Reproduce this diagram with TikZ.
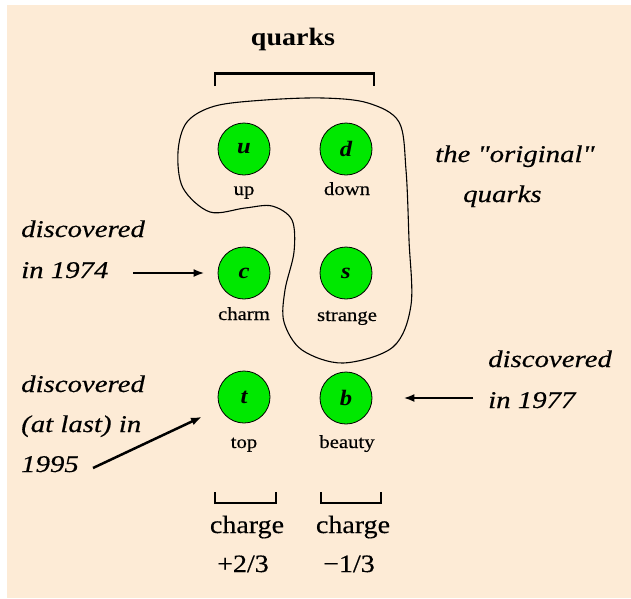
\documentclass[tikz,border=0pt]{standalone}
\usepackage{fontspec}
\setmainfont{Liberation Serif}[FakeStretch=1.12]
\newfontfamily\txtfont{Liberation Serif}[FakeStretch=1.12,FakeBold=0.4]
\newfontfamily\notefont{Liberation Serif}[FakeStretch=1.2,FakeBold=0.4]
\usetikzlibrary{arrows.meta}
\definecolor{bgpeach}{RGB}{253,235,214}
\definecolor{qgreen}{RGB}{0,232,0}
\tikzset{
  quark/.style={circle,draw=black,line width=0.8pt,fill=qgreen,minimum size=52pt,inner sep=0pt,
     font=\fontsize{22}{26}\selectfont\bfseries\itshape},
  qname/.style={anchor=base,inner sep=0pt,font=\txtfont\fontsize{18.5}{22}\selectfont},
  note/.style={anchor=base west,inner sep=0pt,font=\notefont\fontsize{24}{28}\selectfont\itshape},
  big/.style={anchor=base,inner sep=0pt,font=\txtfont\fontsize{25}{30}\selectfont},
  brack/.style={line width=2.6pt},
  pointer/.style={line width=2.5pt,-{Latex[length=11pt,width=8pt]}},
  blob/.style={line width=1.1pt}
}
\begin{document}
\begin{tikzpicture}[x=1pt,y=-1pt]
\fill[white] (0,0) rectangle (631,598);
\fill[bgpeach] (7,5) rectangle (631,598);
\useasboundingbox (0,0) rectangle (631,598);
% title
\node[anchor=base,inner sep=0pt,font=\fontsize{25}{30}\selectfont\bfseries] (title) at (293,45) {quarks};
\draw[brack] (215,86) -- (215,73.5) -- (374,73.5) -- (374,86);
% quarks
\node[quark] (u) at (244,149) {u};
\node[quark] (d) at (346,149) {d};
\node[quark] (c) at (244,273) {c};
\node[quark] (s) at (346,273) {s};
\node[quark] (t) at (244,397) {t};
\node[quark] (b) at (346,398) {b};
\node[qname] (lu) at (244,195) {up};
\node[qname] (ld) at (347,195) {down};
\node[qname] (lc) at (244,320) {charm};
\node[qname] (ls) at (347,321) {strange};
\node[qname] (lt) at (244,448) {top};
\node[qname] (lb) at (347,448) {beauty};
% blob around original quarks
\draw[blob] plot[smooth cycle,tension=0.55] coordinates {
 (323,98) (265,100) (215,106) (187,122) (178,152) (183,188) (210,212)
 (245,208) (272,206) (292,220) (294,252) (285,290) (284,322) (302,350)
 (343,363) (393,347) (411,305) (409,240) (406,170) (399,122) (368,103)};
\node[note] (orig1) at (435,162) {the \symbol{34}original\symbol{34}};
\node[note] (orig2) at (463,202) {quarks};
% 1974
\node[note] (n74a) at (21,237) {discovered};
\node[note] (n74b) at (21,278) {in 1974};
\coordinate (a74) at (133,273);
\draw[pointer,shorten >=13pt] (a74) -- (c);
% 1995
\node[note] (n95a) at (21,392) {discovered};
\node[note] (n95b) at (21,432) {(at last) in};
\node[note] (n95c) at (21,472) {1995};
\coordinate (a95) at (93,468);
\draw[pointer,shorten >=20pt] (a95) -- (t);
% 1977
\node[note] (n77a) at (488,367) {discovered};
\node[note] (n77b) at (488,408) {in 1977};
\coordinate (a77) at (473,398);
\draw[pointer,shorten >=31pt] (a77) -- (b);
% charges
\draw[brack] (215,492) -- (215,503) -- (276,503) -- (276,492);
\draw[brack] (321,492) -- (321,503) -- (381,503) -- (381,492);
\node[big] (ch1) at (247,533) {charge};
\node[big] (ch2) at (353,533) {charge};
\node[big] (q1) at (243,572) {+2/3};
\node[big] (q2) at (349,572) {\char"2212 1/3};
\end{tikzpicture}
\end{document}
